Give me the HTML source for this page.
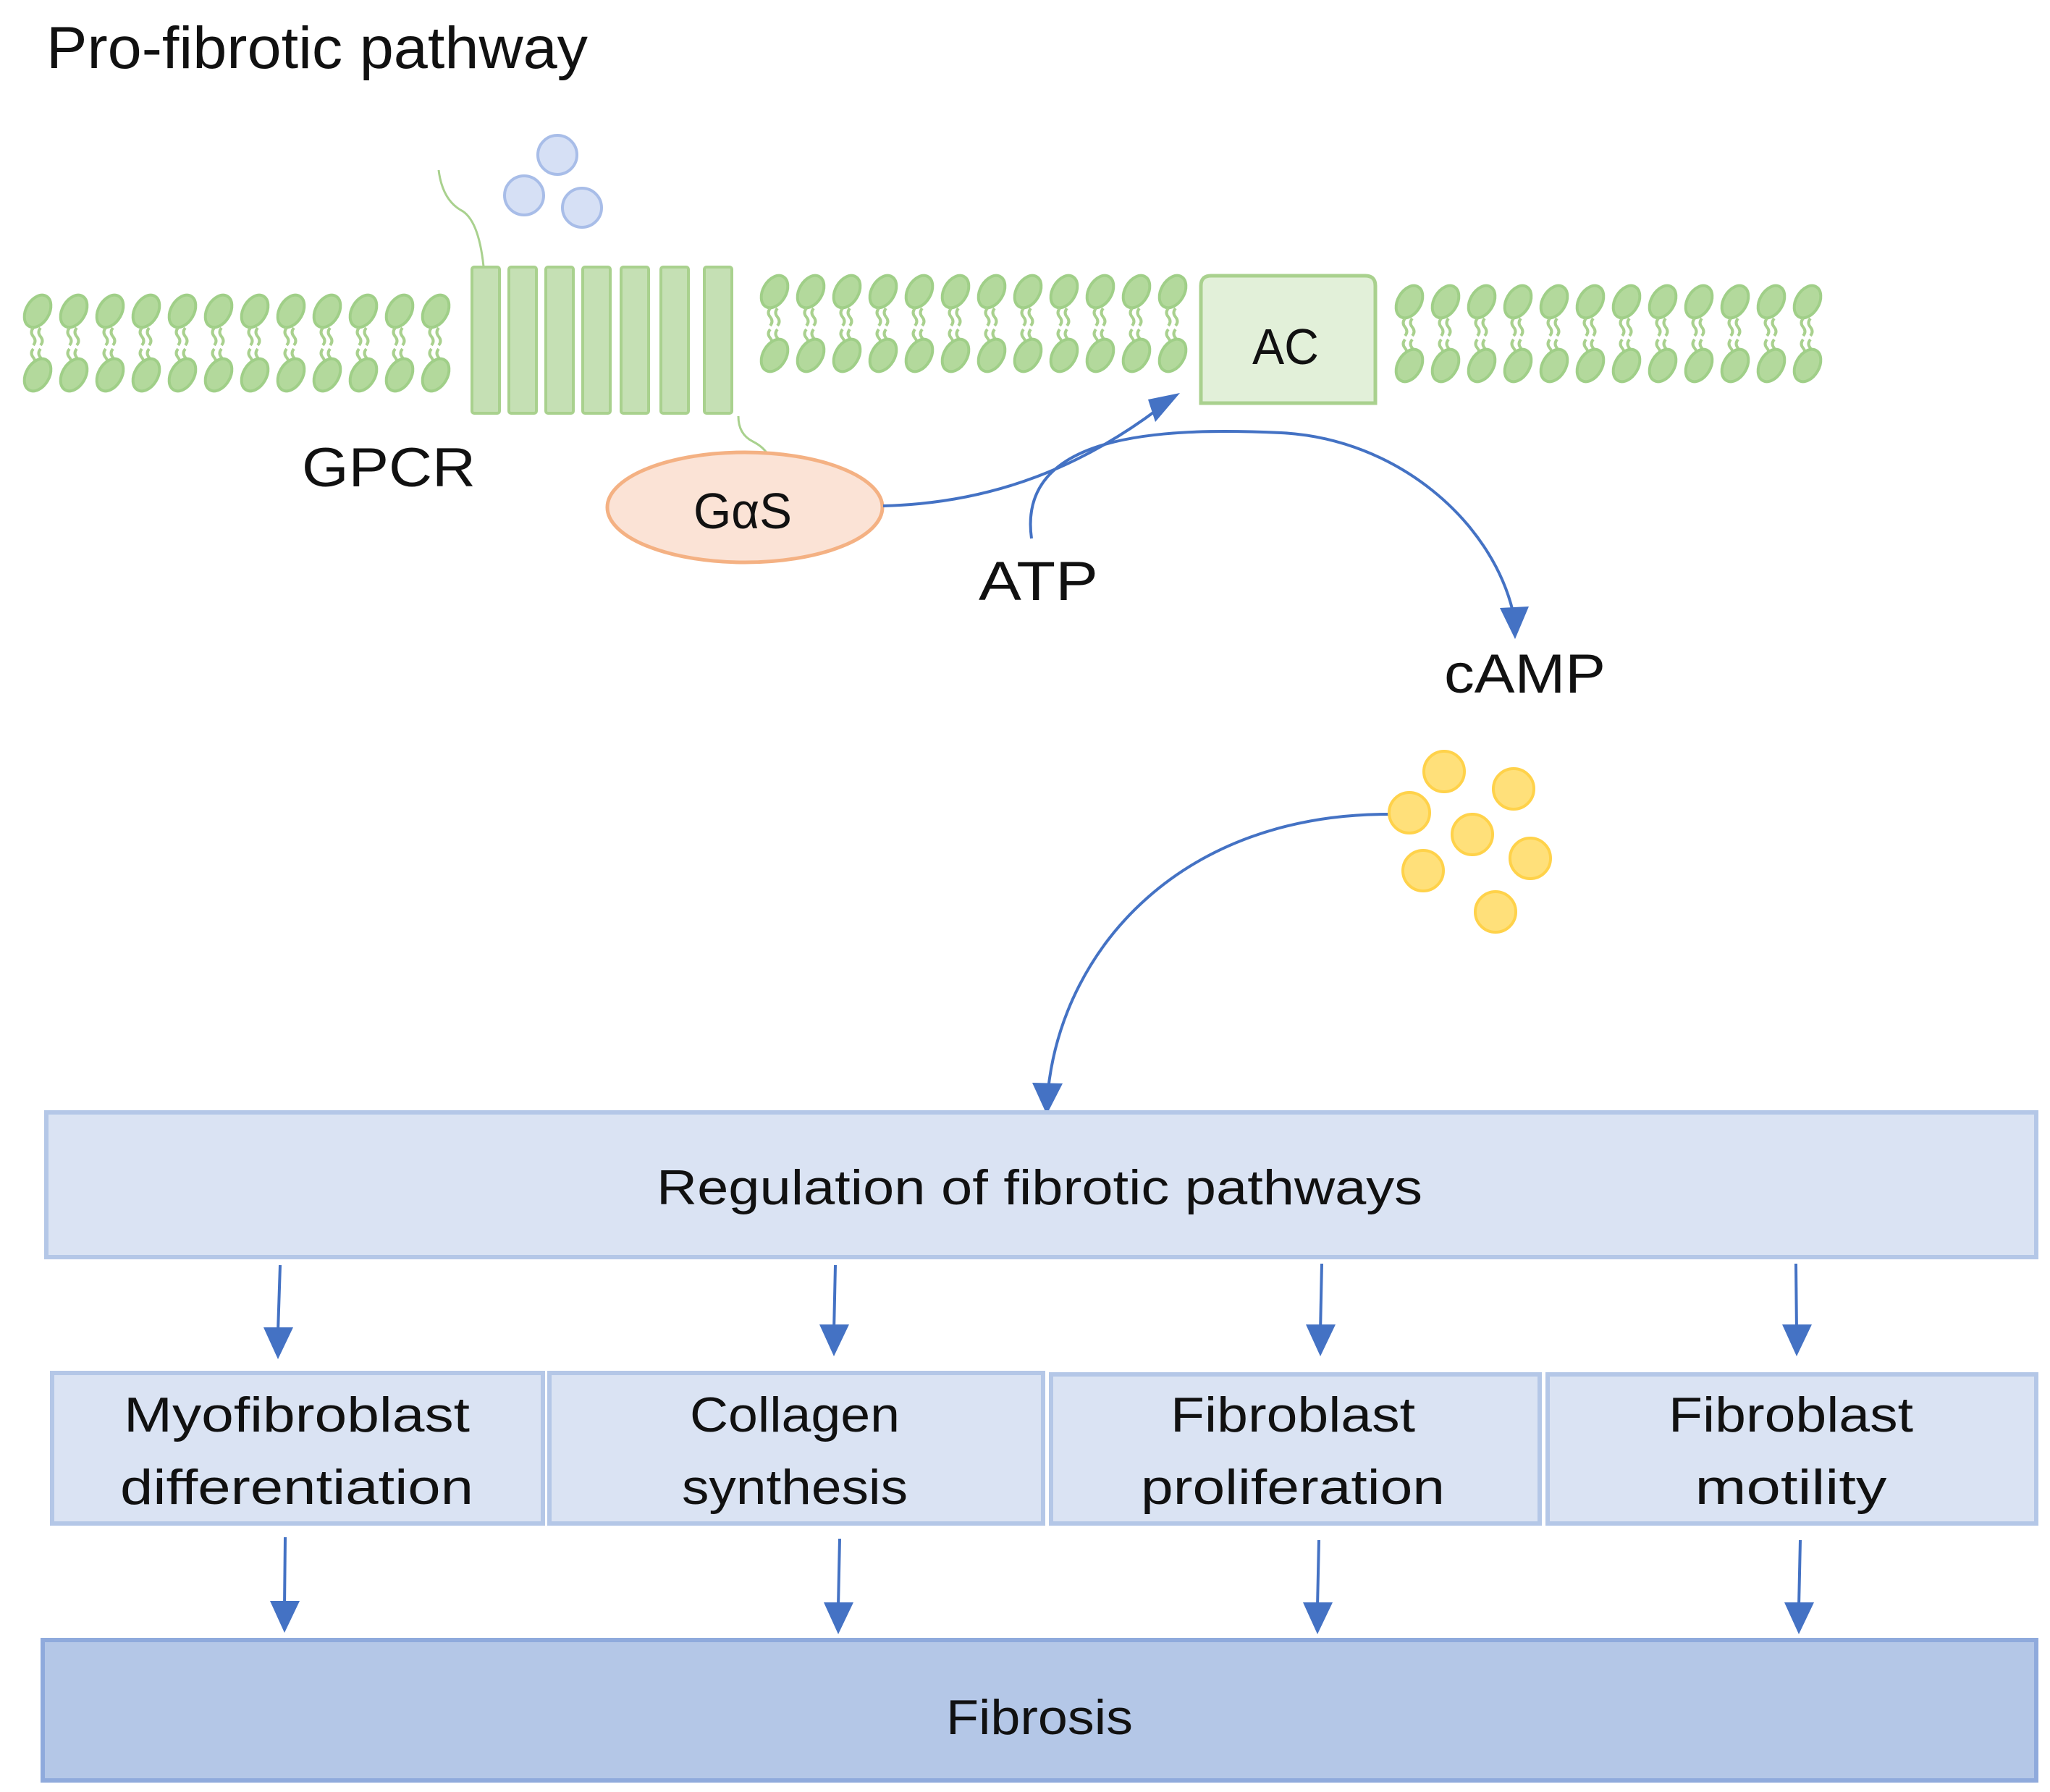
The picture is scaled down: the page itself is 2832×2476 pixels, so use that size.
<!DOCTYPE html>
<html><head><meta charset="utf-8"><style>
html,body{margin:0;padding:0;background:#fff;}
svg{display:block;}
</style></head><body>
<svg width="2832" height="2476" viewBox="0 0 2832 2476" xmlns="http://www.w3.org/2000/svg">
<defs>
<pattern id="lp" x="0" y="0" width="50" height="150" patternUnits="userSpaceOnUse">
  <ellipse cx="25" cy="30" rx="16" ry="24" transform="rotate(30 25 30)" fill="#b3d99c" stroke="#a0cf88" stroke-width="4"/>
  <path d="M19 53 q-5 6 0 12 q5 6 0 12 M29 53 q-5 6 0 12 q5 6 0 12" fill="none" stroke="#a9d18e" stroke-width="4"/>
  <path d="M19 82 q-5 6 0 12 q5 6 0 12 M29 82 q-5 6 0 12 q5 6 0 12" fill="none" stroke="#a9d18e" stroke-width="4"/>
  <ellipse cx="25" cy="118" rx="16" ry="24" transform="rotate(30 25 118)" fill="#b3d99c" stroke="#a0cf88" stroke-width="4"/>
</pattern>
</defs>

<text x="64" y="94" font-family="Liberation Sans, sans-serif" font-size="82" fill="#111" textLength="748" lengthAdjust="spacingAndGlyphs">Pro-fibrotic pathway</text>

<!-- membrane segments -->
<g transform="translate(27,400)"><rect width="600" height="150" fill="url(#lp)"/></g>
<g transform="translate(1045,373)"><rect width="600" height="150" fill="url(#lp)"/></g>
<g transform="translate(1922,387)"><rect width="600" height="150" fill="url(#lp)"/></g>

<!-- ligand -->
<g fill="#d6e0f5" stroke="#a8bde8" stroke-width="4">
<circle cx="770" cy="214" r="27"/><circle cx="724" cy="270" r="27"/><circle cx="804" cy="287" r="27"/>
</g>

<!-- GPCR -->
<path d="M606 235 q5 40 30 55 q25 12 32 78" fill="none" stroke="#a9d18e" stroke-width="3"/>
<path d="M1020 575 q0 25 20 35 q20 10 25 28" fill="none" stroke="#a9d18e" stroke-width="3"/>
<g fill="#c5e0b4" stroke="#a9d18e" stroke-width="4">
<rect x="652" y="369" width="38" height="202" rx="3"/>
<rect x="703" y="369" width="38" height="202" rx="3"/>
<rect x="754" y="369" width="38" height="202" rx="3"/>
<rect x="805" y="369" width="38" height="202" rx="3"/>
<rect x="858" y="369" width="38" height="202" rx="3"/>
<rect x="913" y="369" width="38" height="202" rx="3"/>
<rect x="973" y="369" width="38" height="202" rx="3"/>
</g>
<text x="417" y="672" font-family="Liberation Sans, sans-serif" font-size="76" fill="#111" textLength="240" lengthAdjust="spacingAndGlyphs">GPCR</text>

<!-- AC -->
<path d="M1659 557 V395 q0 -14 14 -14 H1886 q14 0 14 14 V557 Z" fill="#e2f0d9" stroke="#a9d18e" stroke-width="5"/>
<text x="1730" y="503" font-family="Liberation Sans, sans-serif" font-size="70" fill="#111" textLength="92" lengthAdjust="spacingAndGlyphs">AC</text>

<!-- GaS -->
<ellipse cx="1029" cy="701" rx="190" ry="76" fill="#fbe3d6" stroke="#f4b183" stroke-width="5"/>
<text x="958" y="730" font-family="Liberation Sans, sans-serif" font-size="70" fill="#111" textLength="136" lengthAdjust="spacingAndGlyphs">GαS</text>

<!-- arrows -->
<g fill="none" stroke="#4472c4" stroke-width="4">
<path d="M1220 699 C1379 695 1500 640 1600 565"/>
<path d="M1425 744 C1405 600 1600 590 1770 598 C1930 606 2060 720 2090 845"/>
<path d="M1918 1125 C1634 1125 1470 1307 1448 1505"/>
<path d="M387 1748 L384 1840"/><path d="M1154 1748 L1152 1840"/><path d="M1826 1746 L1824 1840"/><path d="M2481 1746 L2482 1840"/>
<path d="M394 2124 L393 2220"/><path d="M1160 2126 L1158 2220"/><path d="M1822 2128 L1820 2220"/><path d="M2487 2128 L2485 2220"/>
</g>
<g fill="#4472c4">
<polygon points="1630,543 1596,583 1586,552"/>
<polygon points="2093,883 2072,840 2112,838"/>
<polygon points="1446,1540 1426,1496 1468,1497"/>
<polygon points="384,1878 364,1834 405,1834"/>
<polygon points="1152,1874 1132,1830 1173,1830"/>
<polygon points="1824,1874 1804,1830 1845,1830"/>
<polygon points="2482,1874 2462,1830 2503,1830"/>
<polygon points="393,2256 373,2212 414,2212"/>
<polygon points="1158,2258 1138,2214 1179,2214"/>
<polygon points="1820,2258 1800,2214 1841,2214"/>
<polygon points="2485,2258 2465,2214 2506,2214"/>
</g>
<text x="1352" y="829" font-family="Liberation Sans, sans-serif" font-size="76" fill="#111" textLength="165" lengthAdjust="spacingAndGlyphs">ATP</text>
<text x="1995" y="957" font-family="Liberation Sans, sans-serif" font-size="76" fill="#111" textLength="223" lengthAdjust="spacingAndGlyphs">cAMP</text>

<!-- cAMP dots -->
<g fill="#ffe07a" stroke="#ffd24a" stroke-width="4">
<circle cx="1995" cy="1066" r="28"/><circle cx="2091" cy="1090" r="28"/><circle cx="1947" cy="1123" r="28"/>
<circle cx="2034" cy="1153" r="28"/><circle cx="2114" cy="1186" r="28"/><circle cx="1966" cy="1203" r="28"/><circle cx="2066" cy="1260" r="28"/>
</g>

<!-- boxes -->
<rect x="64" y="1537" width="2749" height="200" fill="#dae3f3" stroke="#b4c7e7" stroke-width="6"/>
<text x="1436" y="1664" text-anchor="middle" font-family="Liberation Sans, sans-serif" font-size="68" fill="#111" textLength="1058" lengthAdjust="spacingAndGlyphs">Regulation of fibrotic pathways</text>

<g fill="#dae3f3" stroke="#b4c7e7" stroke-width="6">
<rect x="72" y="1897" width="678" height="208"/>
<rect x="759" y="1897" width="682" height="208"/>
<rect x="1452" y="1899" width="675" height="206"/>
<rect x="2138" y="1899" width="675" height="206"/>
</g>
<g font-family="Liberation Sans, sans-serif" font-size="68" fill="#111" text-anchor="middle">
<text x="410" y="1978" textLength="478" lengthAdjust="spacingAndGlyphs">Myofibroblast</text>
<text x="410" y="2078" textLength="488" lengthAdjust="spacingAndGlyphs">differentiation</text>
<text x="1098" y="1978" textLength="290" lengthAdjust="spacingAndGlyphs">Collagen</text>
<text x="1098" y="2078" textLength="312" lengthAdjust="spacingAndGlyphs">synthesis</text>
<text x="1786" y="1978" textLength="338" lengthAdjust="spacingAndGlyphs">Fibroblast</text>
<text x="1786" y="2078" textLength="420" lengthAdjust="spacingAndGlyphs">proliferation</text>
<text x="2474" y="1978" textLength="338" lengthAdjust="spacingAndGlyphs">Fibroblast</text>
<text x="2474" y="2078" textLength="265" lengthAdjust="spacingAndGlyphs">motility</text>
</g>

<rect x="59" y="2266" width="2754" height="194" fill="#b4c7e7" stroke="#8faadc" stroke-width="6"/>
<text x="1436" y="2396" text-anchor="middle" font-family="Liberation Sans, sans-serif" font-size="68" fill="#111" textLength="258" lengthAdjust="spacingAndGlyphs">Fibrosis</text>
</svg>
</body></html>
